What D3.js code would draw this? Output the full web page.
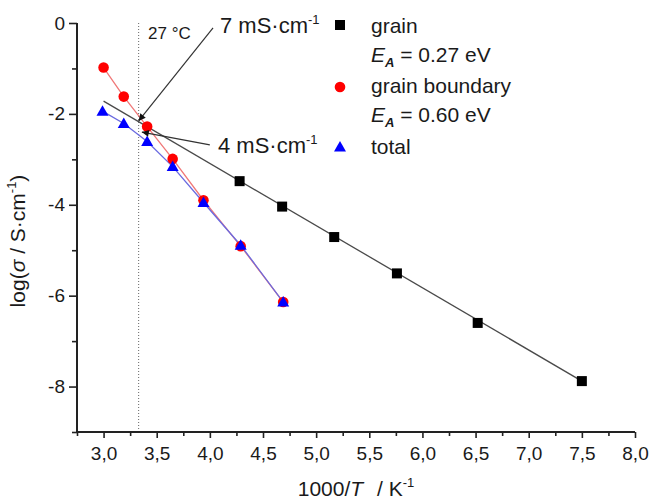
<!DOCTYPE html>
<html><head><meta charset="utf-8">
<script src="https://cdn.jsdelivr.net/npm/d3@7"></script>
<style>
body{margin:0;background:#fff;}
text{font-family:"Liberation Sans",Arial,sans-serif;fill:#1a1a1a;}
</style></head>
<body><svg id="c" width="650" height="499"></svg>
<script>
// ---- data ----
const grainX = [4.28, 4.68, 5.17, 5.76, 6.52, 7.50];
const grainY = [-3.48, -4.04, -4.71, -5.51, -6.60, -7.88];
const grainFitX = [3.0, 7.50];
const grainFitY = [-1.72, -7.88];
const gbX = [3.00, 3.19, 3.41, 3.65, 3.94, 4.29, 4.69];
const gbY = [-0.98, -1.62, -2.28, -2.99, -3.90, -4.91, -6.14];
const totX = [2.99, 3.19, 3.41, 3.65, 3.94, 4.29, 4.69];
const totY = [-1.94, -2.21, -2.61, -3.16, -3.95, -4.89, -6.14];
const xTicks = [3.0, 3.5, 4.0, 4.5, 5.0, 5.5, 6.0, 6.5, 7.0, 7.5, 8.0];
const xMinor = [2.75, 3.25, 3.75, 4.25, 4.75, 5.25, 5.75, 6.25, 6.75, 7.25, 7.75];
const yTicks = [0, -2, -4, -6, -8];
const yMinor = [-1, -3, -5, -7, -9];
const roomTempX = 3.33;
const arrow7 = {tail:[4.03, -0.11], tip:[3.33, -2.155]};
const arrow4 = {tail:[4.00, -2.68], tip:[3.36, -2.40]};

const svg = d3.select("#c");
const L = 77, R = 635, T = 23, B = 432;
const x = d3.scaleLinear().domain([2.75, 8.0]).range([L, R]);
const y = d3.scaleLinear().domain([-9, 0]).range([B, T]);

// defs arrow
svg.append("defs").append("marker").attr("id","ah").attr("viewBox","0 0 10 10")
  .attr("refX",10).attr("refY",5).attr("markerWidth",9).attr("markerHeight",7)
  .attr("markerUnits","userSpaceOnUse").attr("orient","auto")
  .append("path").attr("d","M0,0L10,5L0,10z").attr("fill","#111");

// dotted room temp line
svg.append("line").attr("x1",x(roomTempX)).attr("x2",x(roomTempX)).attr("y1",y(0)).attr("y2",y(-9))
  .attr("stroke","#666").attr("stroke-width",1).attr("stroke-dasharray","1,2");

// axes
const fmtX = d => d3.format(".1f")(d).replace(".", ",");
const gx = svg.append("g").attr("transform",`translate(0,${B})`)
  .call(d3.axisBottom(x).tickValues(xTicks).tickFormat(fmtX).tickSize(6).tickPadding(9));
svg.append("g").attr("transform",`translate(0,${B})`)
  .call(d3.axisBottom(x).tickValues(xMinor).tickFormat("").tickSize(4))
  .select(".domain").remove();
const gy = svg.append("g").attr("transform",`translate(${L},0)`)
  .call(d3.axisLeft(y).tickValues(yTicks).tickFormat(d => String(d)).tickSize(8).tickPadding(4));
svg.append("g").attr("transform",`translate(${L},0)`)
  .call(d3.axisLeft(y).tickValues(yMinor).tickFormat("").tickSize(5))
  .select(".domain").remove();
svg.selectAll(".domain").attr("stroke","#222").attr("stroke-width",2);
svg.selectAll(".tick line").attr("stroke","#222").attr("stroke-width",1.6);
gx.selectAll("text").attr("font-size",19).attr("fill","#1a1a1a");
gy.selectAll("text").attr("font-size",19).attr("fill","#1a1a1a");
gx.select(".domain").attr("d",`M${L},0H${R}`);
gy.select(".domain").attr("d",`M0,${T}V${B}`);

// lines
const line = d3.line().x(d=>x(d[0])).y(d=>y(d[1]));
svg.append("path").datum(d3.zip(grainFitX, grainFitY)).attr("d",line)
  .attr("fill","none").attr("stroke","#4a4a4a").attr("stroke-width",1.3);
svg.append("path").datum(d3.zip(gbX, gbY)).attr("d",line)
  .attr("fill","none").attr("stroke","#f07878").attr("stroke-width",1.3);
svg.append("path").datum(d3.zip(totX, totY)).attr("d",line)
  .attr("fill","none").attr("stroke","#6a6ae0").attr("stroke-width",1.3);

// markers
svg.selectAll(".sq").data(d3.zip(grainX, grainY)).join("rect")
  .attr("x",d=>x(d[0])-5).attr("y",d=>y(d[1])-5).attr("width",10).attr("height",10).attr("fill","#000");
svg.selectAll(".ci").data(d3.zip(gbX, gbY)).join("circle")
  .attr("cx",d=>x(d[0])).attr("cy",d=>y(d[1])).attr("r",5.3).attr("fill","#ff0000");
const tri = "M0,-6L6,4.5L-6,4.5Z";
svg.selectAll(".tr").data(d3.zip(totX, totY)).join("path")
  .attr("d",tri).attr("transform",d=>`translate(${x(d[0])},${y(d[1])})`).attr("fill","#0000ff");

// arrows
[arrow7, arrow4].forEach(a=>{
  svg.append("line").attr("x1",x(a.tail[0])).attr("y1",y(a.tail[1]))
    .attr("x2",x(a.tip[0])).attr("y2",y(a.tip[1]))
    .attr("stroke","#333").attr("stroke-width",1.2).attr("marker-end","url(#ah)");
});

// annotation texts
svg.append("text").attr("x",148).attr("y",39).attr("font-size",17).text("27 °C");
function mscm(xp, yp, val){
  const t = svg.append("text").attr("x",xp).attr("y",yp).attr("font-size",22);
  t.append("tspan").text(val + " mS·cm");
  t.append("tspan").attr("font-size",13).attr("dy",-9).text("-1");
}
mscm(220, 33, "7");
mscm(218, 153, "4");

// legend
const lx = 340, tx = 371;
svg.append("rect").attr("x",lx-5).attr("y",25-5).attr("width",10).attr("height",10).attr("fill","#000");
svg.append("circle").attr("cx",lx).attr("cy",87).attr("r",5.3).attr("fill","#ff0000");
svg.append("path").attr("d",tri).attr("transform",`translate(${lx},147)`).attr("fill","#0000ff");
svg.append("text").attr("x",tx).attr("y",33).attr("font-size",21).text("grain");
svg.append("text").attr("x",tx).attr("y",93).attr("font-size",21).text("grain boundary");
svg.append("text").attr("x",tx).attr("y",154).attr("font-size",21).text("total");
function ea(yp, val){
  const t = svg.append("text").attr("x",tx).attr("y",yp).attr("font-size",21);
  t.append("tspan").attr("font-style","italic").text("E");
  t.append("tspan").attr("font-style","italic").attr("font-weight","bold").attr("font-size",13).attr("dy",5).text("A");
  t.append("tspan").attr("dy",-5).text(" = " + val + " eV");
}
ea(62, "0.27");
ea(122, "0.60");

// axis titles
const xt = svg.append("text").attr("x",(L+R)/2).attr("y",496).attr("text-anchor","middle").attr("font-size",21);
xt.append("tspan").text("1000/");
xt.append("tspan").attr("font-style","italic").text("T");
xt.append("tspan").attr("dx",8).text(" / K");
xt.append("tspan").attr("font-size",13).attr("dy",-9).text("-1");

const yt = svg.append("text").attr("transform",`translate(25,241) rotate(-90)`).attr("text-anchor","middle").attr("font-size",21);
yt.append("tspan").text("log(");
yt.append("tspan").attr("font-style","italic").text("σ");
yt.append("tspan").text(" / S·cm");
yt.append("tspan").attr("font-size",13).attr("dy",-9).text("-1");
yt.append("tspan").attr("dy",9).text(")");
</script></body></html>
